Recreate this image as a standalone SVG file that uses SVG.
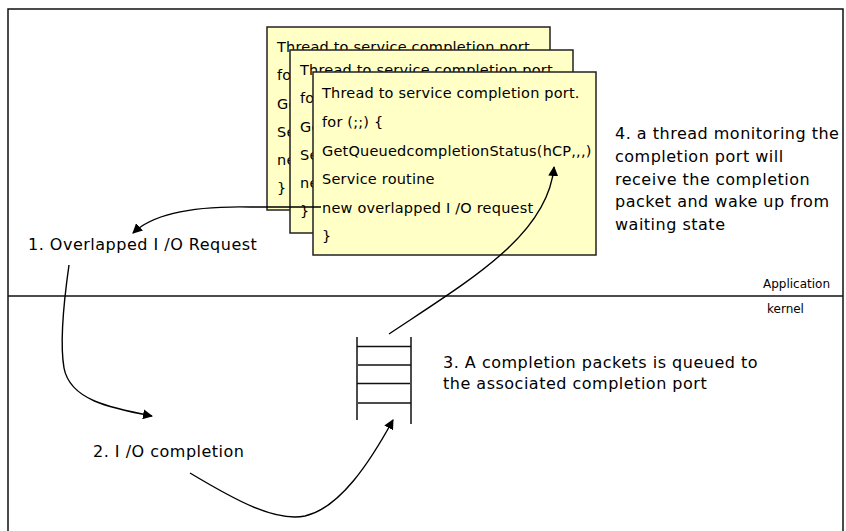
<svg xmlns="http://www.w3.org/2000/svg" width="846" height="531" viewBox="0 0 846 531">
  <defs>
    <marker id="arrow" viewBox="0 0 10 10" refX="9" refY="5" markerWidth="10" markerHeight="10" markerUnits="userSpaceOnUse" orient="auto">
      <path d="M0,0 L10,5 L0,10 z" fill="#000"/>
    </marker>
    <style>
      .frame { fill: none; stroke: #111; stroke-width: 1.5; }
      .box rect { fill: #FFFFC6; stroke: #222; stroke-width: 1.5; }
      .code { font-family: "DejaVu Sans", "Verdana", sans-serif; font-size: 14.5px; letter-spacing: 0.2px; fill: #000; }
      .label { font-family: "DejaVu Sans", "Verdana", sans-serif; font-size: 16px; letter-spacing: 0.5px; fill: #000; }
      .small { font-family: "DejaVu Sans", "Verdana", sans-serif; font-size: 12px; fill: #000; }
      .wire { fill: none; stroke: #000; stroke-width: 1.4; }
      .queue line { stroke: #111; stroke-width: 1.5; }
    </style>
  </defs>

  <rect width="846" height="531" fill="#fff"/>

  <!-- outer frame and application/kernel boundary -->
  <g id="frame">
    <path class="frame" d="M8,531 L8,9 L843,9 L843,531"/>
    <line class="frame" x1="8" y1="296" x2="843" y2="296"/>
    <text class="small" x="763" y="288">Application</text>
    <text class="small" x="767" y="313">kernel</text>
  </g>

  <!-- three stacked worker threads -->
  <g id="thread1" class="box">
    <rect x="267" y="27" width="283" height="183"/>
    <text class="code" x="277" y="52">Thread to service completion port.</text>
    <text class="code" x="277" y="80">for (;;) {</text>
    <text class="code" x="277" y="109">GetQueuedcompletionStatus(hCP,,,)</text>
    <text class="code" x="277" y="137">Service routine</text>
    <text class="code" x="277" y="165">new overlapped I /O request</text>
    <text class="code" x="277" y="193">}</text>
  </g>
  <g id="thread2" class="box">
    <rect x="290" y="50" width="283" height="183"/>
    <text class="code" x="300" y="75">Thread to service completion port.</text>
    <text class="code" x="300" y="103">for (;;) {</text>
    <text class="code" x="300" y="132">GetQueuedcompletionStatus(hCP,,,)</text>
    <text class="code" x="300" y="160">Service routine</text>
    <text class="code" x="300" y="188">new overlapped I /O request</text>
    <text class="code" x="300" y="216">}</text>
  </g>
  <g id="thread3" class="box">
    <rect x="313" y="72" width="283" height="183"/>
    <text class="code" x="322" y="98">Thread to service completion port.</text>
    <text class="code" x="322" y="127">for (;;) {</text>
    <text class="code" x="322" y="156">GetQueuedcompletionStatus(hCP,,,)</text>
    <text class="code" x="322" y="184">Service routine</text>
    <text class="code" x="322" y="213">new overlapped I /O request</text>
    <text class="code" x="322" y="241">}</text>
  </g>

  <!-- completion queue -->
  <g id="queue" class="queue">
    <line x1="357" y1="337" x2="357" y2="420"/>
    <line x1="411" y1="337" x2="411" y2="424"/>
    <line x1="357" y1="346.5" x2="411" y2="346.5"/>
    <line x1="358" y1="365" x2="411" y2="365"/>
    <line x1="357" y1="383.5" x2="410" y2="383.5"/>
    <line x1="358" y1="403" x2="411" y2="403"/>
  </g>

  <!-- step labels -->
  <g id="step1"><text class="label" x="28" y="250">1. Overlapped I /O Request</text></g>
  <g id="step2"><text class="label" x="93" y="457">2. I /O completion</text></g>
  <g id="step3">
    <text class="label" x="443" y="368">3. A completion packets is queued to</text>
    <text class="label" x="443" y="389">the associated completion port</text>
  </g>
  <g id="step4">
    <text class="label" x="615" y="139">4. a thread monitoring the</text>
    <text class="label" x="615" y="162">completion port will</text>
    <text class="label" x="615" y="185">receive the completion</text>
    <text class="label" x="615" y="207">packet and wake up from</text>
    <text class="label" x="615" y="230">waiting state</text>
  </g>

  <!-- connectors -->
  <g id="connectors">
    <path class="wire" marker-end="url(#arrow)" d="M321,207 L250,207 C200,206 155,212 133,233"/>
    <path class="wire" marker-end="url(#arrow)" d="M69,265 C64,300 60,345 64,368 C70,400 110,408 152,416"/>
    <path class="wire" marker-end="url(#arrow)" d="M190,473 C235,500 275,522 305,516 C340,508 370,462 393,420"/>
    <path class="wire" marker-end="url(#arrow)" d="M389,334 C470,280 548,235 554,167"/>
  </g>
</svg>
